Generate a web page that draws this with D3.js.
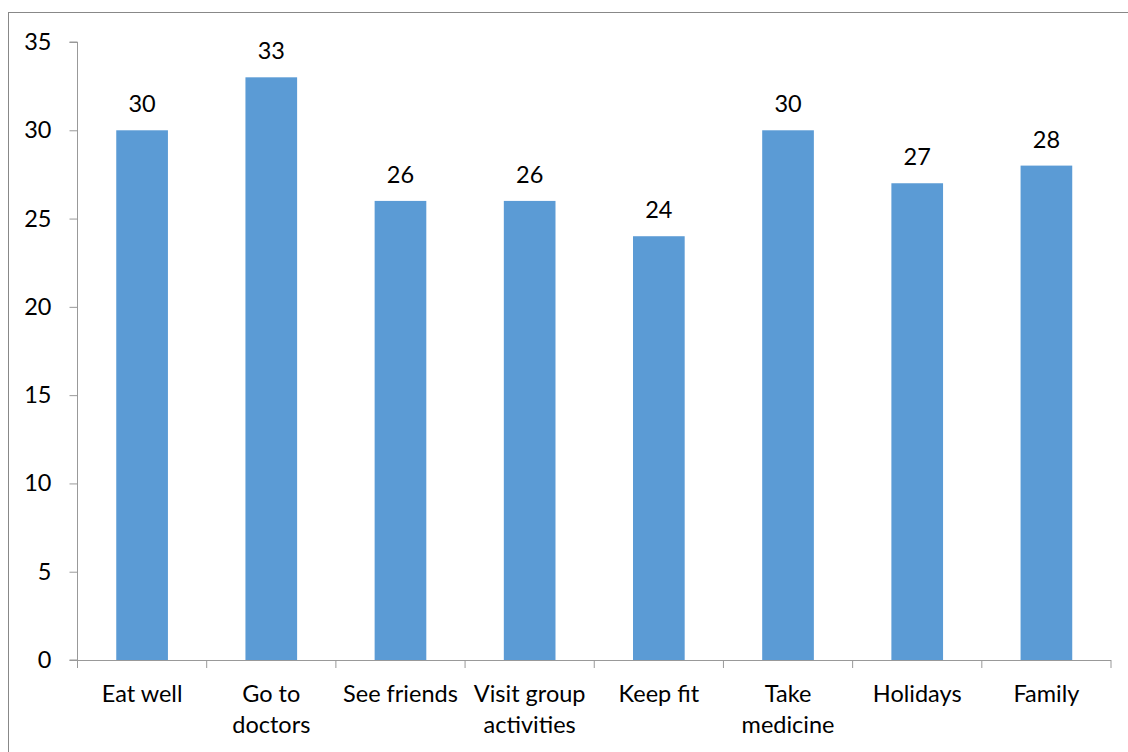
<!DOCTYPE html>
<html><head><meta charset="utf-8">
<script src="https://cdn.jsdelivr.net/npm/d3@7"></script>
<style>body{margin:0;background:#fff}svg{display:block}</style>
</head><body>
<svg id="c" width="1128" height="752"></svg>
<script>
const categories = [["Eat well"],["Go to","doctors"],["See friends"],["Visit group","activities"],["Keep fit"],["Take","medicine"],["Holidays"],["Family"]];
const values = [30,33,26,26,24,30,27,28];
const yTicks = [0,5,10,15,20,25,30,35];

const svg = d3.select("#c");
const font = "Lato, 'Open Sans', sans-serif";
const fs = 23.5;
const mL = 77.5, mR = 1111, mT = 42, mB = 660;
svg.append("rect").attr("x",8.5).attr("y",12.5).attr("width",1130).attr("height",760)
  .attr("fill","none").attr("stroke","#888").attr("stroke-width",1);

const x = d3.scaleBand().domain(d3.range(categories.length)).range([mL,mR]).paddingInner(0.6).paddingOuter(0.3);
const xb = d3.scaleBand().domain(d3.range(categories.length)).range([mL,mR]);
const y = d3.scaleLinear().domain([0,35]).range([mB,mT]);

// y axis
const ya = svg.append("g").attr("transform",`translate(${mL},0)`)
  .call(d3.axisLeft(y).tickValues(yTicks).tickSize(8).tickPadding(18));
ya.select(".domain").attr("stroke","#999").attr("d",`M-8,${mT}H0V${mB}H-8`);
ya.selectAll(".tick line").attr("stroke","#999");
ya.selectAll("text").attr("font-family",font).attr("font-size",fs).attr("fill","#000");

// bars
svg.append("g").selectAll("rect").data(values).join("rect")
  .attr("x",(d,i)=>x(i)).attr("width",x.bandwidth())
  .attr("y",d=>y(d)).attr("height",d=>mB-y(d)).attr("fill","#5B9BD5");

// x axis
const xg = svg.append("g");
xg.append("line").attr("x1",mL).attr("x2",mR).attr("y1",mB+0.5).attr("y2",mB+0.5).attr("stroke","#999");
const bounds = d3.range(categories.length+1).map(i=> i<categories.length ? xb(i) : mR);
xg.selectAll("line.t").data(bounds).join("line").attr("class","t")
  .attr("x1",d=>d).attr("x2",d=>d).attr("y1",mB).attr("y2",mB+8).attr("stroke","#999");

// x labels
svg.append("g").selectAll("text").data(categories).join("text")
  .attr("x",(d,i)=>xb(i)+xb.bandwidth()/2).attr("y",702)
  .attr("text-anchor","middle").attr("font-family",font).attr("font-size",fs).attr("fill","#000")
  .each(function(d){
    const t=d3.select(this);
    d.forEach((s,k)=>t.append("tspan").attr("x",t.attr("x")).attr("dy",k?31:0).text(s));
  });

// value labels
svg.append("g").selectAll("text").data(values).join("text")
  .attr("x",(d,i)=>x(i)+x.bandwidth()/2).attr("y",d=>y(d)-18)
  .attr("text-anchor","middle").attr("font-family",font).attr("font-size",fs).attr("fill","#000")
  .text(d=>d);
</script>
</body></html>
